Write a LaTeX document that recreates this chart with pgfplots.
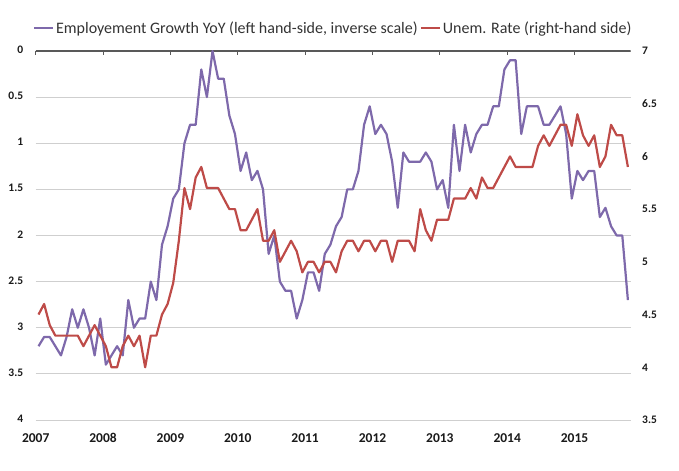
\documentclass[border=0pt]{standalone}
\usepackage{fontspec}
\setmainfont{Carlito}
\usepackage{pgfplots}
\pgfplotsset{compat=1.18}
\usepackage{pgfplotstable}
\definecolor{empc}{HTML}{7E69AB}
\definecolor{unc}{HTML}{BE4B48}
\definecolor{gridc}{HTML}{CFCFCF}
\definecolor{axc}{HTML}{595959}
\definecolor{tickc}{HTML}{1A1A1A}
\definecolor{legc}{HTML}{333333}

\pgfplotstableread{
m v
0 3.2
1 3.1
2 3.1
3 3.2
4 3.3
5 3.1
6 2.8
7 3.0
8 2.8
9 3.0
10 3.3
11 2.9
12 3.4
13 3.3
14 3.2
15 3.3
16 2.7
17 3.0
18 2.9
19 2.9
20 2.5
21 2.7
22 2.1
23 1.9
24 1.6
25 1.5
26 1.0
27 0.8
28 0.8
29 0.2
30 0.5
31 0.0
32 0.3
33 0.3
34 0.7
35 0.9
36 1.3
37 1.1
38 1.4
39 1.3
40 1.5
41 2.2
42 2.0
43 2.5
44 2.6
45 2.6
46 2.9
47 2.7
48 2.4
49 2.4
50 2.6
51 2.2
52 2.1
53 1.9
54 1.8
55 1.5
56 1.5
57 1.3
58 0.8
59 0.6
60 0.9
61 0.8
62 0.9
63 1.2
64 1.7
65 1.1
66 1.2
67 1.2
68 1.2
69 1.1
70 1.2
71 1.5
72 1.4
73 1.7
74 0.8
75 1.3
76 0.8
77 1.1
78 0.9
79 0.8
80 0.8
81 0.6
82 0.6
83 0.2
84 0.1
85 0.1
86 0.9
87 0.6
88 0.6
89 0.6
90 0.8
91 0.8
92 0.7
93 0.6
94 0.9
95 1.6
96 1.3
97 1.4
98 1.3
99 1.3
100 1.8
101 1.7
102 1.9
103 2.0
104 2.0
105 2.7
}\emp

\pgfplotstableread{
m v
0 4.5
1 4.6
2 4.4
3 4.3
4 4.3
5 4.3
6 4.3
7 4.3
8 4.2
9 4.3
10 4.4
11 4.3
12 4.2
13 4.0
14 4.0
15 4.2
16 4.3
17 4.2
18 4.3
19 4.0
20 4.3
21 4.3
22 4.5
23 4.6
24 4.8
25 5.2
26 5.7
27 5.5
28 5.8
29 5.9
30 5.7
31 5.7
32 5.7
33 5.6
34 5.5
35 5.5
36 5.3
37 5.3
38 5.4
39 5.5
40 5.2
41 5.2
42 5.3
43 5.0
44 5.1
45 5.2
46 5.1
47 4.9
48 5.0
49 5.0
50 4.9
51 5.0
52 5.0
53 4.9
54 5.1
55 5.2
56 5.2
57 5.1
58 5.2
59 5.2
60 5.1
61 5.2
62 5.2
63 5.0
64 5.2
65 5.2
66 5.2
67 5.1
68 5.5
69 5.3
70 5.2
71 5.4
72 5.4
73 5.4
74 5.6
75 5.6
76 5.6
77 5.7
78 5.6
79 5.8
80 5.7
81 5.7
82 5.8
83 5.9
84 6.0
85 5.9
86 5.9
87 5.9
88 5.9
89 6.1
90 6.2
91 6.1
92 6.2
93 6.3
94 6.3
95 6.1
96 6.4
97 6.2
98 6.1
99 6.2
100 5.9
101 6.0
102 6.3
103 6.2
104 6.2
105 5.9
}\unem

\begin{document}
\begin{tikzpicture}
\begin{axis}[
  name=ax, at={(0,0)}, anchor=south west,
  scale only axis, width=595pt, height=369pt,
  xmin=0, xmax=106, ymin=0, ymax=4, y dir=reverse,
  axis line style={draw=none},
  xtick={0,12,24,36,48,60,72,84,96},
  xticklabels={2007,2008,2009,2010,2011,2012,2013,2014,2015},
  xtick pos=right, xticklabel pos=left,
  tick align=inside, major tick length=4pt,
  x tick style={color=axc, line width=1pt},
  ytick={0,0.5,1,1.5,2,2.5,3,3.5,4},
  ytick pos=left, y tick style={draw=none},
  ymajorgrids, grid style={color=gridc, line width=0.9pt},
  /pgf/number format/assume math mode=true,
  typeset ticklabels with strut,
  yticklabel style={font=\fontsize{11.5}{13}\selectfont\bfseries, color=tickc, xshift=-9pt},
  xticklabel style={font=\fontsize{13.5}{16}\selectfont\bfseries, color=tickc, yshift=-8pt},
  legend style={at={(0.5,1)}, anchor=center, yshift=23pt, draw=none, fill=none,
    legend columns=-1, font=\fontsize{16}{18}\selectfont, text=legc},
  legend image code/.code={\draw[#1] (0pt,0pt) -- (19pt,0pt);},
]
\draw[axc, line width=1.2pt] (axis description cs:0,1) -- (axis description cs:1,1);
\addplot[empc, line width=2.2pt, line join=round] table[x expr=\thisrow{m}+0.5, y=v] {\emp};
\addlegendentry{Employement Growth YoY (left hand-side, inverse scale)\hspace{8pt}}
\addlegendimage{unc, line width=2.2pt}
\addlegendentry{Unem. Rate (right-hand side)}
\end{axis}
\begin{axis}[
  at={(ax.south west)}, anchor=south west,
  scale only axis, width=595pt, height=369pt,
  xmin=0, xmax=106, ymin=3.5, ymax=7,
  axis line style={draw=none},
  xtick=\empty,
  ytick={3.5,4,4.5,5,5.5,6,6.5,7},
  ytick pos=right, y tick style={draw=none},
  /pgf/number format/assume math mode=true,
  yticklabel style={font=\fontsize{11.5}{13}\selectfont\bfseries, color=tickc, xshift=8pt},
]
\addplot[unc, line width=2.2pt, line join=round] table[x expr=\thisrow{m}+0.5, y=v] {\unem};
\end{axis}
\pgfresetboundingbox
\useasboundingbox ([shift={(-35.7pt,-51pt)}]ax.south west) rectangle ([shift={(48.3pt,51pt)}]ax.north east);
\end{tikzpicture}
\end{document}
